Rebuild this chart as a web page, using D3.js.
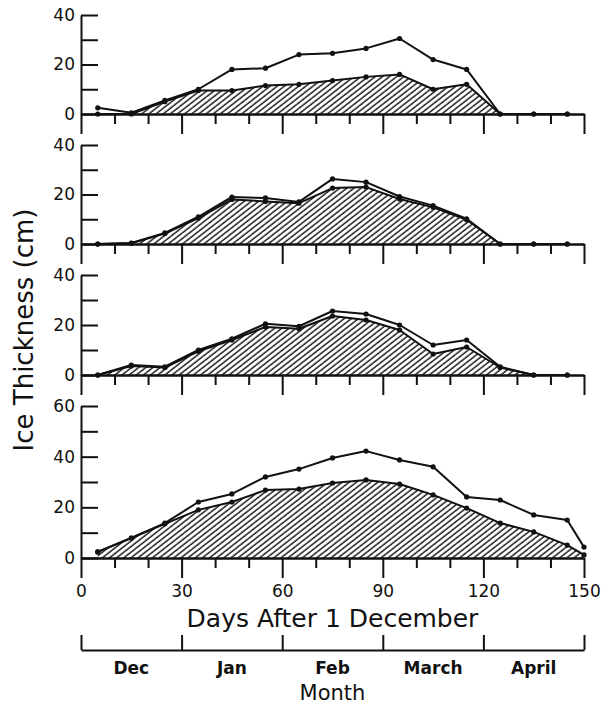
<!DOCTYPE html>
<html>
<head>
<meta charset="utf-8">
<script src="https://cdn.jsdelivr.net/npm/d3@7"></script>
<style>
body { margin: 0; background: #fff; }
svg text { font-family: "DejaVu Sans", sans-serif; fill: #111; }
.axis path, .axis line { stroke: #111; stroke-width: 2; }
</style>
</head>
<body>
<svg width="602" height="706"></svg>
<script>
// days after 1 December of each measurement
var days = [5, 15, 25, 35, 45, 55, 65, 75, 85, 95, 105, 115, 125, 135, 145];
var daysLast = [5, 15, 25, 35, 45, 55, 65, 75, 85, 95, 105, 115, 125, 135, 145, 150];

// total ice (upper line) and hatched layer (lower line), cm
var total1 = [2.5, 0.5, 5.5, 10, 18, 18.5, 24, 24.5, 26.5, 30.5, 22, 18, 0, 0, 0];
var under1 = [0, 0, 5, 9.5, 9.5, 11.5, 12, 13.5, 15, 16, 10, 12, 0, 0, 0];
var total2 = [0, 0.4, 4.5, 11, 19, 18.6, 17, 26.3, 25, 19.2, 15.5, 10.2, 0, 0, 0];
var under2 = [0, 0.3, 4.2, 10.5, 18, 17.2, 16.5, 22.6, 23, 18.2, 14.8, 9.8, 0, 0, 0];
var total3 = [0, 4, 3.3, 10, 14.5, 20.5, 19.5, 25.6, 24.4, 20, 12, 14, 3.3, 0, 0];
var under3 = [0, 3.6, 3, 9.5, 14, 19.2, 18.5, 23.6, 22, 18, 8.4, 11.2, 3, 0, 0];
var total4 = [2.4, 7.9, 13.8, 22.1, 25.3, 32, 35.1, 39.5, 42.2, 38.7, 36, 24.1, 22.9, 17, 15, 4.3];
var under4 = [2.4, 7.9, 13.5, 19, 22.1, 26.8, 27.2, 29.6, 30.8, 29.2, 24.9, 19.7, 13.8, 10.3, 5.1, 1.2];

var yTicks40 = [0, 10, 20, 30, 40];
var yTicks60 = [0, 10, 20, 30, 40, 50, 60];
var xMinor = [10, 20, 40, 50, 70, 80, 100, 110, 130, 140];
var xMajor = [0, 30, 60, 90, 120, 150];
var months = ["Dec", "Jan", "Feb", "March", "April"];

var svg = d3.select("svg");

var x = d3.scaleLinear().domain([0, 150]).range([81, 584]);

var defs = svg.append("defs");
defs.append("pattern")
    .attr("id", "hatch")
    .attr("patternUnits", "userSpaceOnUse")
    .attr("width", 4.4)
    .attr("height", 10)
    .attr("patternTransform", "rotate(52)")
  .append("line")
    .attr("x1", 1).attr("y1", 0)
    .attr("x2", 1).attr("y2", 10)
    .attr("stroke", "#111")
    .attr("stroke-width", 1.4);

var panels = [
    { days: days, total: total1, under: under1, max: 40, ticks: yTicks40, zero: 114, top: 15 },
    { days: days, total: total2, under: under2, max: 40, ticks: yTicks40, zero: 244, top: 145 },
    { days: days, total: total3, under: under3, max: 40, ticks: yTicks40, zero: 375, top: 275 },
    { days: daysLast, total: total4, under: under4, max: 60, ticks: yTicks60, zero: 558, top: 406, labels: true }
];

function styleAxis(g) {
    g.attr("font-size", null).attr("font-family", null);
    g.selectAll("text").attr("font-size", 17);
}

panels.forEach(function(p) {
    var y = d3.scaleLinear().domain([0, p.max]).range([p.zero, p.top]);
    var g = svg.append("g");

    var pts = function(vals) {
        return vals.map(function(v, i) { return [p.days[i], v]; });
    };

    var area = d3.area()
        .x(function(d) { return x(d[0]); })
        .y0(y(0))
        .y1(function(d) { return y(d[1]); });

    var line = d3.line()
        .x(function(d) { return x(d[0]); })
        .y(function(d) { return y(d[1]); });

    g.append("path")
        .datum(pts(p.under))
        .attr("d", area)
        .attr("fill", "url(#hatch)");

    // x axis, minor and major ticks hang down
    g.append("g")
        .attr("class", "axis")
        .attr("transform", "translate(0," + p.zero + ")")
        .call(d3.axisBottom(x).tickValues(xMinor).tickSize(10).tickSizeOuter(0).tickFormat(""))
        .call(styleAxis);

    g.append("g")
        .attr("class", "axis")
        .attr("transform", "translate(0," + p.zero + ")")
        .call(d3.axisBottom(x).tickValues(xMajor).tickSize(20).tickSizeOuter(0).tickPadding(7)
            .tickFormat(p.labels ? d3.format("d") : ""))
        .call(styleAxis);

    // y axis, ticks inward
    g.append("g")
        .attr("class", "axis")
        .attr("transform", "translate(" + x(0) + ",0)")
        .call(d3.axisLeft(y).tickValues(p.ticks).tickSize(-17).tickSizeOuter(0).tickPadding(6)
            .tickFormat(function(d) { return d % 20 === 0 ? d : ""; }))
        .call(styleAxis);

    [p.under, p.total].forEach(function(vals) {
        g.append("path")
            .datum(pts(vals))
            .attr("d", line)
            .attr("fill", "none")
            .attr("stroke", "#111")
            .attr("stroke-width", 2)
            .attr("stroke-linejoin", "round");

        g.selectAll(null)
            .data(pts(vals))
            .enter().append("circle")
            .attr("cx", function(d) { return x(d[0]); })
            .attr("cy", function(d) { return y(d[1]); })
            .attr("r", 2.6)
            .attr("fill", "#111");
    });
});

svg.append("text")
    .attr("x", x(75))
    .attr("y", 627)
    .attr("text-anchor", "middle")
    .attr("font-size", 25)
    .text("Days After 1 December");

// month bracket
svg.append("g")
    .attr("class", "axis")
    .attr("transform", "translate(0,650)")
    .call(d3.axisTop(x).tickValues(xMajor).tickSize(15).tickSizeOuter(0).tickFormat(""))
    .call(styleAxis);

svg.append("g").selectAll("text")
    .data(months)
    .enter().append("text")
    .attr("x", function(d, i) { return x((xMajor[i] + xMajor[i + 1]) / 2); })
    .attr("y", 674)
    .attr("text-anchor", "middle")
    .attr("font-size", 17)
    .attr("font-weight", "bold")
    .text(function(d) { return d; });

svg.append("text")
    .attr("x", x(75))
    .attr("y", 700)
    .attr("text-anchor", "middle")
    .attr("font-size", 21)
    .text("Month");

svg.append("text")
    .attr("transform", "translate(33,330) rotate(-90)")
    .attr("text-anchor", "middle")
    .attr("font-size", 26)
    .text("Ice Thickness (cm)");
</script>
</body>
</html>
